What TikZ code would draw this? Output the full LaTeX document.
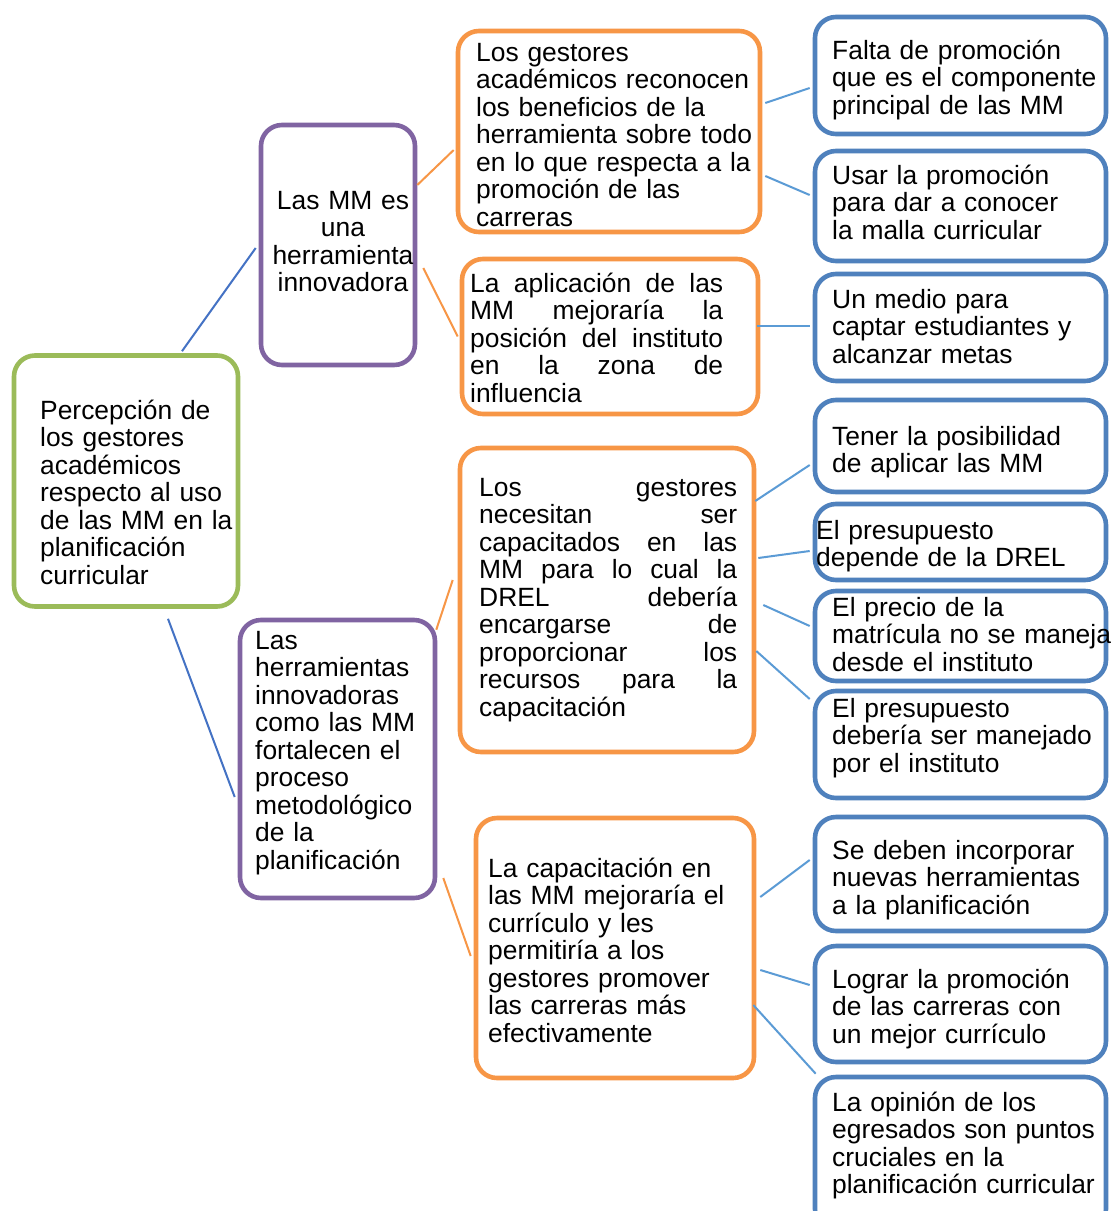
\documentclass[tikz,border=0pt]{standalone}
\usepackage{fontspec}
\setmainfont{Liberation Sans}
\definecolor{cgreen}{HTML}{9BBB59}
\definecolor{cpurple}{HTML}{8064A2}
\definecolor{corange}{HTML}{F79646}
\definecolor{cblue}{HTML}{4F81BD}
\definecolor{clblue}{HTML}{5B9BD5}
\definecolor{cdblue}{HTML}{4472C4}
\newcommand\jw[2]{\leavevmode\hbox to #1pt{#2}}
\begin{document}
\begin{tikzpicture}[x=1pt,y=-1pt,
  box/.style={draw=#1,line width=4.6pt,rounded corners=21pt,inner sep=0pt,fill=white},
  txt/.style={anchor=base west,inner sep=0pt,text width=320pt,align=left,
    font=\fontsize{26.4}{27.5}\selectfont},
  ctxt/.style={anchor=base,inner sep=0pt,text width=170pt,align=center,
    font=\fontsize{26.4}{27.5}\selectfont},
  rootline/.style={draw=cdblue,line width=2pt},
  oline/.style={draw=corange,line width=2pt},
  bline/.style={draw=clblue,line width=2pt}]
\useasboundingbox (0,0) rectangle (1112,1211);
\clip (0,0) rectangle (1112,1211);
\fill[white] (0,0) rectangle (1112,1211);
% boxes
\node[box=cgreen,minimum width=224pt,minimum height=251pt] (R) at (126,481) {};
\node[box=cpurple,minimum width=154pt,minimum height=240pt] (P1) at (338,245) {};
\node[box=cpurple,minimum width=195pt,minimum height=278pt] (P2) at (337.5,759) {};
\node[box=corange,minimum width=302pt,minimum height=201pt] (A) at (609,131.5) {};
\node[box=corange,minimum width=296pt,minimum height=155pt] (B) at (610,336.5) {};
\node[box=corange,minimum width=294pt,minimum height=304pt] (C) at (607,600) {};
\node[box=corange,minimum width=278pt,minimum height=260pt] (D) at (615,948) {};
\node[box=cblue,minimum width=291pt,minimum height=117pt] (B1) at (960.5,75.5) {};
\node[box=cblue,minimum width=291pt,minimum height=110pt] (B2) at (960.5,206) {};
\node[box=cblue,minimum width=291pt,minimum height=107pt] (B3) at (960.5,327.5) {};
\node[box=cblue,minimum width=291pt,minimum height=92pt] (B4) at (960.5,446) {};
\node[box=cblue,minimum width=291pt,minimum height=76pt] (B5) at (960.5,542) {};
\node[box=cblue,minimum width=291pt,minimum height=90pt] (B6) at (960.5,636) {};
\node[box=cblue,minimum width=291pt,minimum height=107pt] (B7) at (960.5,744.5) {};
\node[box=cblue,minimum width=291pt,minimum height=114pt] (B8) at (960.5,874) {};
\node[box=cblue,minimum width=291pt,minimum height=116pt] (B9) at (960.5,1004) {};
\node[box=cblue,minimum width=291pt,minimum height=153pt] (B10) at (960.5,1153.5) {};
% connectors
\draw[rootline] ([xshift=56pt,yshift=2pt]R.north) -- ([xshift=-3pt,yshift=-3pt]P1.west);
\draw[rootline] ([xshift=42pt,yshift=-10pt]R.south) -- ([xshift=-3pt,yshift=-38pt]P2.west);
\draw[oline] ([yshift=60pt]P1.east) -- ([xshift=-2pt,yshift=-18.5pt]A.west);
\draw[oline] ([xshift=6pt,yshift=-23pt]P1.east) -- ([xshift=-2pt]B.west);
\draw[oline] ([xshift=-1pt,yshift=-12pt]P2.north east) -- ([xshift=-5pt,yshift=20pt]C.west);
\draw[oline] ([xshift=6pt,yshift=-119pt]P2.east) -- ([xshift=-3pt,yshift=-8pt]D.west);
\draw[bline] ([xshift=3pt,yshift=28.5pt]A.east) -- ([xshift=-3pt,yshift=-12.5pt]B1.west);
\draw[bline] ([xshift=3pt,yshift=-44.5pt]A.east) -- ([xshift=-3pt,yshift=11pt]B2.west);
\draw[bline] ([xshift=-3pt,yshift=10.5pt]B.east) -- ([xshift=-3pt,yshift=1.5pt]B3.west);
\draw[bline] ([xshift=-1pt,yshift=99pt]C.east) -- ([xshift=-3pt,yshift=-19pt]B4.west);
\draw[bline] ([xshift=2pt,yshift=42pt]C.east) -- ([xshift=-3pt,yshift=-9pt]B5.west);
\draw[bline] ([xshift=7pt,yshift=-5pt]C.east) -- ([xshift=-3pt,yshift=10pt]B6.west);
\draw[bline] ([xshift=0pt,yshift=-51pt]C.east) -- ([xshift=-3pt,yshift=45.5pt]B7.west);
\draw[bline] ([xshift=4pt,yshift=51pt]D.east) -- ([xshift=-3pt,yshift=14pt]B8.west);
\draw[bline] ([xshift=4pt,yshift=-22pt]D.east) -- ([xshift=-3pt,yshift=19pt]B9.west);
\draw[bline] ([xshift=-3pt,yshift=-57pt]D.east) -- ([xshift=3pt,yshift=1pt]B10.north west);
% texts
\node[txt] (Rt) at (40,419) {Percepción de\\los gestores\\académicos\\respecto al uso\\de las MM en la\\planificación\\curricular};
\node[ctxt] (P1t) at (343,209) {Las MM es\\una\\herramienta\\innovadora};
\node[txt] (P2t) at (255,649) {Las\\herramientas\\innovadoras\\como las MM\\fortalecen el\\proceso\\metodológico\\de la\\planificación};
\node[txt] (At) at (476,61) {Los gestores\\académicos reconocen\\los beneficios de la\\herramienta sobre todo\\en lo que respecta a la\\promoción de las\\carreras};
\node[txt] (Bt) at (470,292) {\jw{253}{La\hfill aplicación\hfill de\hfill las}\\\jw{253}{MM\hfill mejoraría\hfill la}\\\jw{253}{posición\hfill del\hfill instituto}\\\jw{253}{en\hfill la\hfill zona\hfill de}\\influencia};
\node[txt] (Ct) at (479,496) {\jw{258}{Los\hfill gestores}\\\jw{258}{necesitan\hfill ser}\\\jw{258}{capacitados\hfill en\hfill las}\\\jw{258}{MM\hfill para\hfill lo\hfill cual\hfill la}\\\jw{258}{DREL\hfill debería}\\\jw{258}{encargarse\hfill de}\\\jw{258}{proporcionar\hfill los}\\\jw{258}{recursos\hfill para\hfill la}\\capacitación};
\node[txt] (Dt) at (488,877) {La capacitación en\\las MM mejoraría el\\currículo y les\\permitiría a los\\gestores promover\\las carreras más\\efectivamente};
\node[txt] (B1t) at (832,59) {Falta de promoción\\que es el componente\\principal de las MM};
\node[txt] (B2t) at (832,184) {Usar la promoción\\para dar a conocer\\la malla curricular};
\node[txt] (B3t) at (832,308) {Un medio para\\captar estudiantes y\\alcanzar metas};
\node[txt] (B4t) at (832,445) {Tener la posibilidad\\de aplicar las MM};
\node[txt] (B5t) at (816,539) {El presupuesto\\depende de la DREL};
\node[txt] (B6t) at (832,616) {El precio de la\\matrícula no se maneja\\desde el instituto};
\node[txt] (B7t) at (832,717) {El presupuesto\\debería ser manejado\\por el instituto};
\node[txt] (B8t) at (832,859) {Se deben incorporar\\nuevas herramientas\\a la planificación};
\node[txt] (B9t) at (832,988) {Lograr la promoción\\de las carreras con\\un mejor currículo};
\node[txt] (B10t) at (832,1111) {La opinión de los\\egresados son puntos\\cruciales en la\\planificación curricular};
\end{tikzpicture}
\end{document}
